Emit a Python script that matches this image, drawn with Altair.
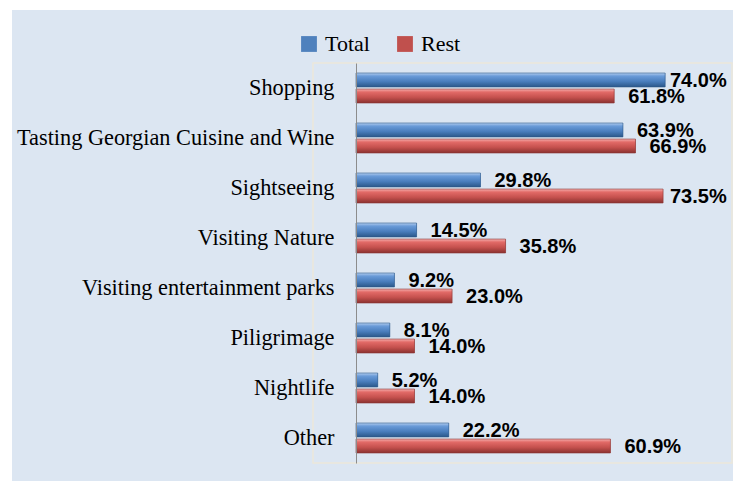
import altair as alt
import pandas as pd

categories = ["Shopping", "Tasting Georgian Cuisine and Wine", "Sightseeing",
              "Visiting Nature", "Visiting entertainment parks", "Piligrimage",
              "Nightlife", "Other"]
series = ["Total", "Rest"]
total = [74.0, 63.9, 29.8, 14.5, 9.2, 8.1, 5.2, 22.2]
rest = [61.8, 66.9, 73.5, 35.8, 23.0, 14.0, 14.0, 60.9]

rows = []
for c, t, r in zip(categories, total, rest):
    rows.append({"category": c, "series": "Total", "value": t})
    rows.append({"category": c, "series": "Rest", "value": r})
df = pd.DataFrame(rows)

W, H = 376, 400

y_enc = alt.Y("category:N", sort=categories,
              scale=alt.Scale(paddingInner=0.4, paddingOuter=0.2),
              axis=alt.Axis(title=None, ticks=False, labelPadding=22,
                            labelFont="Liberation Serif", labelFontSize=22.3,
                            labelColor="black", domainColor="#8c8c8c",
                            labelLimit=400, zindex=1))
yoff = alt.YOffset("series:N", sort=series, scale=alt.Scale(paddingInner=0.13))
x_enc = alt.X("value:Q", scale=alt.Scale(domain=[0, 90]), axis=None)

one = alt.Data(values=[{"a": 1}])

backdrop = alt.Chart(one).mark_rect(fill="#dce6f2").encode(
    x=alt.value(-344), x2=alt.value(W + 1), y=alt.value(-53), y2=alt.value(H + 18)
)

frame = alt.Chart(one).mark_rect(
    fill="transparent", stroke="#ebe7da", strokeWidth=1.5
).encode(x=alt.value(-43), x2=alt.value(W), y=alt.value(0), y2=alt.value(H))

base = alt.Chart(df)

legend_bars = base.mark_bar().encode(
    x=x_enc, y=y_enc, yOffset=yoff,
    color=alt.Color("series:N", sort=series,
                    scale=alt.Scale(domain=series, range=["#4f81bd", "#c0504d"]),
                    legend=alt.Legend(title=None, orient="none", direction="horizontal",
                                      legendX=-58, legendY=-30,
                                      symbolType="square", symbolSize=250,
                                      symbolStrokeWidth=0, labelFont="Liberation Serif",
                                      labelFontSize=22, labelColor="black",
                                      labelOffset=5, columnPadding=24, padding=0)),
)

blue_grad = alt.Gradient(
    gradient="linear", x1=0, x2=0, y1=0, y2=1,
    stops=[alt.GradientStop(color="#b3cdee", offset=0),
           alt.GradientStop(color="#6a9bd8", offset=0.22),
           alt.GradientStop(color="#4a7ebd", offset=0.6),
           alt.GradientStop(color="#2b5789", offset=1)])
red_grad = alt.Gradient(
    gradient="linear", x1=0, x2=0, y1=0, y2=1,
    stops=[alt.GradientStop(color="#f4b0ae", offset=0),
           alt.GradientStop(color="#e26a67", offset=0.22),
           alt.GradientStop(color="#c4504d", offset=0.6),
           alt.GradientStop(color="#8a3230", offset=1)])

blue_bars = base.transform_filter(alt.datum.series == "Total").mark_bar(
    fill=blue_grad, stroke="#2f5a8c", strokeWidth=0.6
).encode(x=x_enc, y=y_enc, yOffset=yoff)

red_bars = base.transform_filter(alt.datum.series == "Rest").mark_bar(
    fill=red_grad, stroke="#8c3836", strokeWidth=0.6
).encode(x=x_enc, y=y_enc, yOffset=yoff)

labels = base.transform_calculate(
    label="format(datum.value, '.1f') + '%'",
    lx="min(datum.value, 71.8)"
).mark_text(
    align="left", baseline="middle", dx=14, dy=1,
    font="Liberation Sans", fontWeight="bold", fontSize=20, color="black"
).encode(
    x=alt.X("lx:Q", scale=alt.Scale(domain=[0, 90]), axis=None),
    y=y_enc, yOffset=yoff, text="label:N"
)

chart = alt.layer(backdrop, frame, legend_bars, blue_bars, red_bars, labels).properties(
    width=W, height=H,
    autosize=alt.AutoSizeParams(type="none"),
    padding={"left": 348, "top": 55, "right": 1, "bottom": 18},
    background="white",
).configure_view(stroke="transparent")

chart.save("out.html", embed_options={"renderer": "svg", "actions": False})
